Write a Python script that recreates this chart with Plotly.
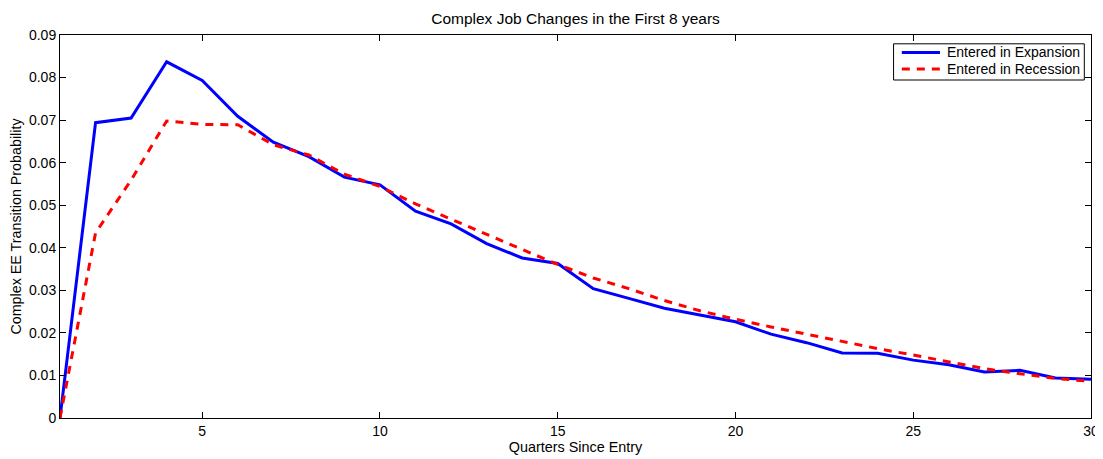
import plotly.graph_objects as go

quarters = list(range(1, 31))
expansion = [0.0, 0.0694, 0.0705, 0.0837, 0.0793, 0.0709, 0.0648, 0.0614, 0.0566, 0.0548,
             0.0486, 0.0456, 0.0410, 0.0376, 0.0363, 0.0304, 0.0281, 0.0258, 0.0242, 0.0226,
             0.0197, 0.0177, 0.0153, 0.0152, 0.0136, 0.0125, 0.0108, 0.0112, 0.0094, 0.0091]
recession = [0.0, 0.0435, 0.0559, 0.0698, 0.0690, 0.0689, 0.0642, 0.0618, 0.0573, 0.0544,
             0.0503, 0.0467, 0.0431, 0.0396, 0.0361, 0.0329, 0.0304, 0.0276, 0.0252, 0.0232,
             0.0214, 0.0197, 0.0179, 0.0163, 0.0148, 0.0132, 0.0116, 0.0104, 0.0093, 0.0086]
series_names = ["Entered in Expansion", "Entered in Recession"]
x_ticks = [5, 10, 15, 20, 25, 30]
y_ticks = [0, 0.01, 0.02, 0.03, 0.04, 0.05, 0.06, 0.07, 0.08, 0.09]
y_labels = ["0", "0.01", "0.02", "0.03", "0.04", "0.05", "0.06", "0.07", "0.08", "0.09"]

font = "Liberation Sans, Arial, sans-serif"
fs = 14
colors = ["#0000ff", "#ff0000"]
dashes = ["solid", "8px,7px"]

fig = go.Figure()
for name, ys, c, d in zip(series_names, [expansion, recession], colors, dashes):
    fig.add_trace(go.Scatter(x=quarters, y=ys, mode="lines", name=name, showlegend=False,
                             line=dict(color=c, width=3, dash=d)))

axis_common = dict(showline=True, linecolor="black", linewidth=1, mirror="ticks",
                   ticks="inside", ticklen=6, tickcolor="black", showgrid=False, zeroline=False,
                   automargin=False,
                   tickfont=dict(family=font, size=fs, color="black"))

# Custom MATLAB-style legend box (paper coordinates)
lx0, lx1, ly0, ly1 = 0.8085, 0.9935, 0.8825, 0.977
sx0, sx1, tx = 0.8165, 0.8535, 0.8585
row_y = [0.9546, 0.9110]
shapes = [dict(type="rect", xref="paper", yref="paper", x0=lx0, x1=lx1, y0=ly0, y1=ly1,
               line=dict(color="black", width=1), fillcolor="white", layer="above")]
annotations = []
for name, c, d, yy in zip(series_names, colors, dashes, row_y):
    shapes.append(dict(type="line", xref="paper", yref="paper", x0=sx0, x1=sx1, y0=yy, y1=yy,
                       line=dict(color=c, width=3, dash=d), layer="above"))
    annotations.append(dict(text=name, xref="paper", yref="paper", x=tx, y=yy,
                            xanchor="left", yanchor="middle", showarrow=False,
                            font=dict(family=font, size=fs, color="black")))

fig.update_layout(
    width=1095, height=451,
    margin=dict(l=52, r=12, t=27, b=41),
    paper_bgcolor="white", plot_bgcolor="white",
    font=dict(family=font, size=fs, color="black"),
    title=dict(text="Complex Job Changes in the First 8 years", x=0.5, xref="paper",
               y=1, yref="paper", yanchor="bottom", pad=dict(b=11),
               font=dict(family=font, size=15.5, color="black")),
    xaxis=dict(range=[1, 30], tickvals=x_ticks,
               title=dict(text="Quarters Since Entry", standoff=0,
                          font=dict(family=font, size=14.4)), **axis_common),
    yaxis=dict(range=[0, 0.09], tickvals=y_ticks, ticktext=y_labels,
               title=dict(text="Complex EE Transition Probability", standoff=6,
                          font=dict(family=font, size=14.3)), **axis_common),
    shapes=shapes,
    annotations=annotations,
    showlegend=False,
)

fig.write_html("out.html")
